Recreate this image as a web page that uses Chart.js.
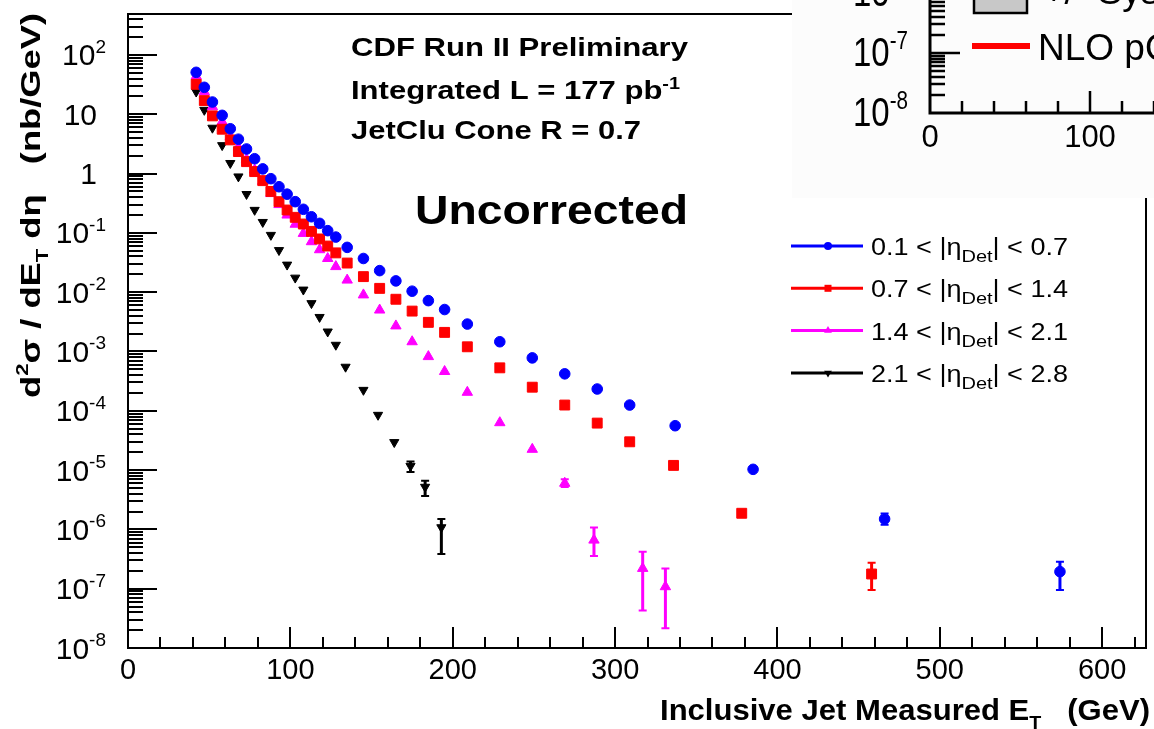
<!DOCTYPE html>
<html>
<head>
<meta charset="utf-8">
<title>Inclusive jet cross section</title>
<script src="https://cdn.jsdelivr.net/npm/chart.js@4.4.1/dist/chart.umd.min.js"></script>
<style>
  body { margin: 0; background: #fff; }
  #wrap { position: relative; width: 1154px; height: 729px; overflow: hidden; }
  #main { position: absolute; left: 0; top: 0; }
  #inset { position: absolute; left: 792px; top: 0; }
</style>
</head>
<body>
<div id="wrap">
  <canvas id="main" width="1154" height="729"></canvas>
  <canvas id="inset" width="362" height="198"></canvas>
</div>
<script>
// jet ET bin centres (GeV) and measured d2sigma/dET deta (nb/GeV), one pair per eta bin
const et01 = [42, 47, 52, 58, 63, 68, 73, 78, 83, 88, 93, 98, 103, 108, 113, 118, 123, 128, 135, 145,
              155, 165, 175, 185, 195, 209, 229, 249, 269, 289, 309, 337, 385, 466, 574];
const sig01 = [51, 28.5, 16.1, 9.6, 5.7, 3.8, 2.6, 1.78, 1.2, 0.82, 0.60, 0.45, 0.336, 0.25, 0.187, 0.145,
               0.109, 0.085, 0.057, 0.037, 0.0231, 0.0155, 0.0104, 0.0072, 0.0051, 0.0029, 0.00146,
               7.8e-4, 4.2e-4, 2.33e-4, 1.25e-4, 5.6e-5, 1.03e-5, 1.5e-6, 1.94e-7];

const et07 = [42, 47, 52, 58, 63, 68, 73, 78, 83, 88, 93, 98, 103, 108, 113, 118, 123, 128, 135, 145,
              155, 165, 175, 185, 195, 209, 229, 249, 269, 289, 309, 336, 378, 458];
const sig07 = [32, 17, 9.4, 5.6, 3.7, 2.35, 1.59, 1.08, 0.76, 0.5, 0.336, 0.243, 0.183, 0.141, 0.106,
               0.079, 0.060, 0.046, 0.031, 0.0183, 0.0116, 0.0076, 0.0048, 0.0031, 0.0021, 0.0012,
               5.3e-4, 2.5e-4, 1.25e-4, 6.2e-5, 3.0e-5, 1.2e-5, 1.87e-6, 1.77e-7];

const et14 = [42, 47, 52, 58, 63, 68, 73, 78, 83, 88, 93, 98, 103, 108, 113, 118, 123, 128, 135, 145,
              155, 165, 175, 185, 195, 209, 229, 249, 269, 287, 317, 331];
const sig14 = [44, 24, 13.4, 7.5, 4.2, 2.8, 1.75, 1.15, 0.74, 0.46, 0.30, 0.20, 0.14, 0.098, 0.071,
               0.052, 0.037, 0.027, 0.016, 0.009, 0.005, 0.0027, 0.00146, 8.2e-4, 4.6e-4, 2.05e-4,
               6.3e-5, 2.24e-5, 6.0e-6, 6.6e-7, 2.2e-7, 1.08e-7];

const et21 = [42, 47, 52, 58, 63, 68, 73, 78, 83, 88, 93, 98, 103, 108, 113, 118, 123, 128,
              134, 145, 154, 164, 174, 183, 193];
const sig21 = [24, 11.8, 5.9, 3.0, 1.5, 0.89, 0.45, 0.243, 0.152, 0.092, 0.051, 0.029, 0.0175, 0.011,
               0.0065, 0.0038, 0.00216, 0.00129, 5.5e-4, 2.24e-4, 8.5e-5, 2.95e-5, 1.17e-5, 5.2e-6, 1.08e-6];

// statistical errors where they stick out of the marker: [ET, low, high]
const err01 = [[466, 1.2e-6, 1.85e-6], [574, 9.5e-8, 2.85e-7]];
const err07 = [[458, 9.5e-8, 2.73e-7]];
const err14 = [[269, 5.2e-6, 7.0e-6], [287, 3.56e-7, 1.08e-6], [317, 4.3e-8, 4.2e-7], [331, 2.15e-8, 2.2e-7]];
const err21 = [[174, 9.3e-6, 1.4e-5], [183, 3.66e-6, 6.6e-6], [193, 3.85e-7, 1.5e-6]];

// legend names: text, subscript, text
const seriesNames = [
  ['0.1 < |\u03b7', 'Det', '| < 0.7'],
  ['0.7 < |\u03b7', 'Det', '| < 1.4'],
  ['1.4 < |\u03b7', 'Det', '| < 2.1'],
  ['2.1 < |\u03b7', 'Det', '| < 2.8']
];

// axis ticks
const yExponents = [-8, -7, -6, -5, -4, -3, -2, -1, 0, 1, 2];
const xTickValues = [0, 100, 200, 300, 400, 500, 600];
const insetYExponents = [-8, -7, -6];
const insetXTicks = [0, 100];

const FAMILY = '"Liberation Sans", Arial, Helvetica, sans-serif';

function pts(xs, ys) {
  return xs.map((x, i) => ({ x: x, y: ys[i] }));
}

// draws a run of [text, kind] pieces, kind 0 normal, 1 superscript, -1 subscript
function drawRich(ctx, parts, x, y, size, o) {
  o = o || {};
  const weight = o.weight || 'normal';
  const small = o.small || 0.62;
  const fontOf = k => weight + ' ' + (k ? Math.round(size * small) : size) + 'px ' + FAMILY;
  let nat = 0;
  for (const [t, k] of parts) {
    ctx.font = fontOf(k);
    nat += ctx.measureText(t).width;
  }
  const sx = o.width ? o.width / nat : (o.sx || 1);
  const total = nat * sx;
  let off = 0;
  if (o.align === 'right') off = -total;
  else if (o.align === 'center') off = -total / 2;
  ctx.save();
  ctx.translate(x, y);
  if (o.rot) ctx.rotate(o.rot);
  ctx.translate(off, 0);
  ctx.scale(sx, 1);
  ctx.fillStyle = o.color || '#000';
  ctx.textBaseline = 'alphabetic';
  ctx.textAlign = 'left';
  let cx = 0;
  for (const [t, k] of parts) {
    ctx.font = fontOf(k);
    const dy = k === 1 ? -size * 0.42 : (k === -1 ? size * 0.3 : 0);
    ctx.fillText(t, cx, dy);
    cx += ctx.measureText(t).width;
  }
  ctx.restore();
}

function marker(ctx, style, x, y, r, color) {
  ctx.fillStyle = color;
  ctx.beginPath();
  if (style === 'circle') {
    ctx.arc(x, y, r, 0, Math.PI * 2);
  } else if (style === 'rect') {
    ctx.rect(x - r, y - r, 2 * r, 2 * r);
  } else if (style === 'up') {
    ctx.moveTo(x, y - r);
    ctx.lineTo(x + r * 0.87, y + r * 0.5);
    ctx.lineTo(x - r * 0.87, y + r * 0.5);
  } else {
    ctx.moveTo(x, y + r);
    ctx.lineTo(x + r * 0.87, y - r * 0.5);
    ctx.lineTo(x - r * 0.87, y - r * 0.5);
  }
  ctx.closePath();
  ctx.fill();
}

// vertical error bars with small caps, under the markers
const errorBars = {
  id: 'errorBars',
  beforeDatasetsDraw(chart) {
    const { ctx, scales: { x, y } } = chart;
    ctx.save();
    chart.data.datasets.forEach(ds => {
      ctx.strokeStyle = ds.borderColor;
      (ds.errors || []).forEach(([et, lo, hi]) => {
        const px = x.getPixelForValue(et);
        const y1 = y.getPixelForValue(hi);
        const y2 = y.getPixelForValue(lo);
        ctx.lineWidth = 3;
        ctx.beginPath();
        ctx.moveTo(px, y1);
        ctx.lineTo(px, y2);
        ctx.stroke();
        ctx.lineWidth = 2;
        ctx.beginPath();
        ctx.moveTo(px - 4, y1); ctx.lineTo(px + 4, y1);
        ctx.moveTo(px - 4, y2); ctx.lineTo(px + 4, y2);
        ctx.stroke();
      });
    });
    ctx.restore();
  }
};

// frame, inward ticks, labels, titles, text and legend
const mainDecor = {
  id: 'mainDecor',
  afterDraw(chart) {
    const { ctx, chartArea: a, scales: { x, y } } = chart;
    ctx.save();
    ctx.strokeStyle = '#000';
    ctx.lineWidth = 2;
    ctx.strokeRect(a.left, a.top, a.right - a.left, a.bottom - a.top);

    ctx.beginPath();
    for (let e = yExponents[0]; e <= yExponents[yExponents.length - 1]; e++) {
      for (let k = 1; k <= 9; k++) {
        const v = k * Math.pow(10, e);
        if (v < y.min || v > y.max) continue;
        const py = Math.round(y.getPixelForValue(v));
        ctx.moveTo(a.left, py);
        ctx.lineTo(a.left + (k === 1 ? 29 : 15), py);
      }
    }
    for (let v = 0; v <= x.max; v += 20) {
      const px = Math.round(x.getPixelForValue(v));
      ctx.moveTo(px, a.bottom);
      ctx.lineTo(px, a.bottom - (v % 100 === 0 ? 21 : 11));
    }
    ctx.stroke();

    yExponents.forEach(e => {
      const py = y.getPixelForValue(Math.pow(10, e));
      if (e === 0) drawRich(ctx, [['1', 0]], 97, py + 10.5, 30, { align: 'right' });
      else if (e === 1) drawRich(ctx, [['10', 0]], 97, py + 10.5, 30, { align: 'right' });
      else drawRich(ctx, [['10', 0], [String(e), 1]], 106, py + 10.5, 30, { align: 'right' });
    });
    xTickValues.forEach(v => {
      drawRich(ctx, [[String(v), 0]], x.getPixelForValue(v), 679, 29, { align: 'center' });
    });

    drawRich(ctx, [['Inclusive Jet Measured E', 0], ['T', -1], ['   (GeV)', 0]],
      660, 720, 30, { weight: 'bold', width: 490 });
    drawRich(ctx, [['d', 0], ['2', 1], ['\u03c3 / dE', 0], ['T', -1], [' d\u03b7   (nb/GeV)', 0]],
      40, 398, 28, { weight: 'bold', width: 385, rot: -Math.PI / 2 });

    drawRich(ctx, [['CDF Run II Preliminary', 0]], 351, 56, 25, { weight: 'bold', width: 337 });
    drawRich(ctx, [['Integrated L = 177 pb', 0], ['-1', 1]], 351, 99, 25, { weight: 'bold', width: 329 });
    drawRich(ctx, [['JetClu Cone R = 0.7', 0]], 351, 139, 25, { weight: 'bold', width: 290 });
    drawRich(ctx, [['Uncorrected', 0]], 415, 224, 41, { weight: 'bold', width: 273 });

    const legendSizes = [4, 3.5, 4.5, 4.5];
    chart.data.datasets.forEach((ds, i) => {
      const ly = 246 + i * 42.3;
      ctx.strokeStyle = ds.borderColor;
      ctx.lineWidth = 3;
      ctx.beginPath();
      ctx.moveTo(791, ly);
      ctx.lineTo(863, ly);
      ctx.stroke();
      marker(ctx, ds.legendMarker, 828, ly, legendSizes[i], ds.borderColor);
      const n = seriesNames[i];
      drawRich(ctx, [[n[0], 0], [n[1], -1], [n[2], 0]], 871, ly + 9, 23, { width: 197, small: 0.72 });
    });
    ctx.restore();
  }
};

new Chart(document.getElementById('main'), {
  type: 'scatter',
  data: {
    datasets: [
      { data: pts(et01, sig01), errors: err01, pointStyle: 'circle', pointRadius: 5.3,
        backgroundColor: '#0000ff', borderColor: '#0000ff', legendMarker: 'circle' },
      { data: pts(et07, sig07), errors: err07, pointStyle: 'rect', pointRadius: 7,
        backgroundColor: '#ff0000', borderColor: '#ff0000', legendMarker: 'rect' },
      { data: pts(et14, sig14), errors: err14, pointStyle: 'triangle', pointRadius: 6,
        backgroundColor: '#ff00ff', borderColor: '#ff00ff', legendMarker: 'up' },
      { data: pts(et21, sig21), errors: err21, pointStyle: 'triangle', pointRotation: 180, pointRadius: 5.3,
        backgroundColor: '#000000', borderColor: '#000000', legendMarker: 'down' }
    ]
  },
  options: {
    responsive: false,
    animation: false,
    layout: { padding: { left: 128, top: 14, right: 2, bottom: 81 } },
    plugins: { legend: { display: false }, tooltip: { enabled: false } },
    scales: {
      x: { type: 'linear', min: 0, max: 627, display: false },
      y: { type: 'logarithmic', min: 1e-8, max: 491, display: false }
    }
  },
  plugins: [errorBars, mainDecor]
});

// corner of the NLO comparison plot laid over the top right
const insetDecor = {
  id: 'insetDecor',
  beforeDraw(chart) {
    const ctx = chart.ctx;
    ctx.save();
    ctx.fillStyle = '#fcfcfc';
    ctx.fillRect(0, 0, chart.width, chart.height);
    ctx.restore();
  },
  afterDraw(chart) {
    const { ctx, chartArea: a, scales: { x, y } } = chart;
    ctx.save();
    ctx.strokeStyle = '#000';
    ctx.lineWidth = 3;
    ctx.beginPath();
    ctx.moveTo(a.left, 0);
    ctx.lineTo(a.left, a.bottom);
    ctx.lineTo(chart.width, a.bottom);
    ctx.stroke();

    ctx.lineWidth = 2.5;
    ctx.beginPath();
    for (let e = insetYExponents[0]; e <= insetYExponents[insetYExponents.length - 1]; e++) {
      for (let k = 1; k <= 9; k++) {
        const v = k * Math.pow(10, e);
        if (v <= y.min || v > y.max) continue;
        const py = Math.round(y.getPixelForValue(v));
        ctx.moveTo(a.left, py);
        ctx.lineTo(a.left + (k === 1 ? 30 : 15), py);
      }
    }
    for (let v = 20; v <= x.max; v += 20) {
      const px = Math.round(x.getPixelForValue(v));
      ctx.moveTo(px, a.bottom);
      ctx.lineTo(px, a.bottom - (v % 100 === 0 ? 22 : 12));
    }
    ctx.stroke();

    insetYExponents.forEach(e => {
      const py = y.getPixelForValue(Math.pow(10, e));
      drawRich(ctx, [['10', 0], [String(e), 1]], 116, py + 13, 40, { align: 'right', width: 55 });
    });
    insetXTicks.forEach(v => {
      drawRich(ctx, [[String(v), 0]], x.getPixelForValue(v), 147, 31, { align: 'center' });
    });

    // legend: systematic band and NLO curve
    ctx.fillStyle = '#c8c8c8';
    ctx.fillRect(182, -10, 53, 23);
    ctx.lineWidth = 2.5;
    ctx.strokeRect(182, -10, 53, 23);
    ctx.strokeStyle = '#ff0000';
    ctx.lineWidth = 6;
    ctx.beginPath();
    ctx.moveTo(180, 46);
    ctx.lineTo(238, 46);
    ctx.stroke();
    drawRich(ctx, [['+/- Systematic Uncertainty', 0]], 251, 4, 37);
    drawRich(ctx, [['NLO pQCD', 0]], 246, 60, 37);
    ctx.restore();
  }
};

new Chart(document.getElementById('inset'), {
  type: 'scatter',
  data: { datasets: [] },
  options: {
    responsive: false,
    animation: false,
    layout: { padding: { left: 138, top: 0, right: 0, bottom: 85 } },
    plugins: { legend: { display: false }, tooltip: { enabled: false } },
    scales: {
      x: { type: 'linear', min: 0, max: 140, display: false },
      y: { type: 'logarithmic', min: 1e-8, max: 7.64e-7, display: false }
    }
  },
  plugins: [insetDecor]
});
</script>
</body>
</html>
